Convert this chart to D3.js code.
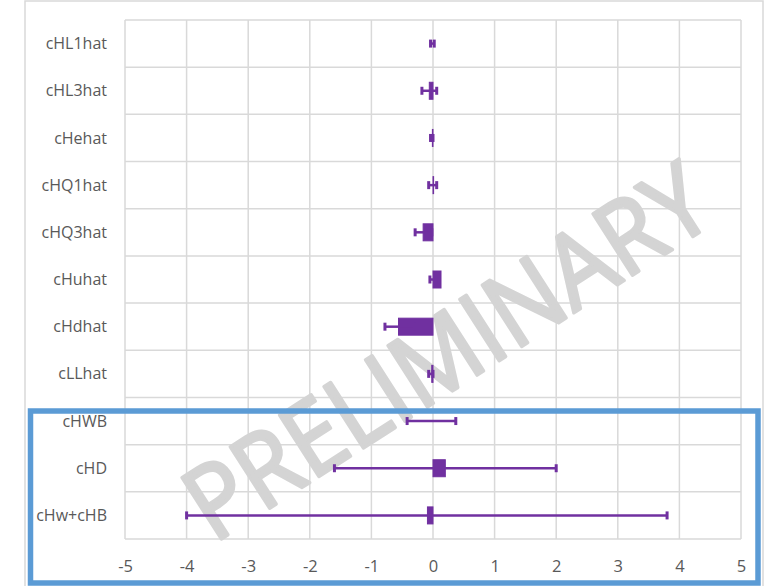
<!DOCTYPE html>
<html><head><meta charset="utf-8">
<script src="https://cdn.jsdelivr.net/npm/d3@7"></script>
<style>html,body{margin:0;padding:0;background:#fff;}svg{display:block;}</style>
</head><body>
<svg id="c" width="769" height="586"></svg>
<script>
const categories = ["cHL1hat","cHL3hat","cHehat","cHQ1hat","cHQ3hat","cHuhat","cHdhat","cLLhat","cHWB","cHD","cHw+cHB"];
const values   = [0.0, -0.06, -0.01, 0.01, -0.16, 0.13, -0.56, -0.02, 0.0, 0.2, -0.09];
const errLow   = [-0.04, -0.18, -0.04, -0.07, -0.29, -0.05, -0.78, -0.07, -0.42, -1.6, -4.0];
const errHigh  = [0.02, 0.06, 0.0, 0.06, -0.02, 0.1, -0.3, 0.0, 0.37, 2.0, 3.8];
const xTicks   = [-5,-4,-3,-2,-1,0,1,2,3,4,5];
const watermark = "PRELIMINARY";

const svg = d3.select("#c");
const pL = 125, pR = 741, pT = 20, pB = 539;
const x = d3.scaleLinear().domain([-5,5]).range([pL,pR]);
const y = d3.scaleBand().domain(categories).range([pT,pB]).padding(0);
const purple = "#7030A0", grid = "#d9d9d9", font = "'Open Sans', sans-serif";

// outer chart border
svg.append("rect").attr("x",25).attr("y",1).attr("width",738).attr("height",600)
  .attr("fill","none").attr("stroke",grid).attr("stroke-width",1.5);

// gridlines
const g = svg.append("g");
g.selectAll("line.v").data(xTicks).join("line")
  .attr("x1",d=>x(d)).attr("x2",d=>x(d)).attr("y1",pT).attr("y2",pB)
  .attr("stroke",grid).attr("stroke-width",1.5);
const hLines = categories.map(c=>y(c)).concat([pB]);
g.selectAll("line.h").data(hLines).join("line")
  .attr("x1",pL).attr("x2",pR).attr("y1",d=>d).attr("y2",d=>d)
  .attr("stroke",grid).attr("stroke-width",1.5);

// axis tick labels
const xAxis = d3.axisBottom(x).tickValues(xTicks).tickSize(0).tickPadding(0).tickFormat(d3.format("d"));
const ax = svg.append("g").attr("transform",`translate(0,${pB})`).call(xAxis);
ax.select(".domain").remove();
ax.selectAll("text").attr("y",33).attr("dy",0).attr("font-family",font).attr("font-size",16.5).attr("fill","#595959")
  .text(d=>d<0 ? "-"+Math.abs(d) : d);

// category labels
const yAxis = d3.axisLeft(y).tickSize(0).tickPadding(0);
const ay = svg.append("g").attr("transform","translate(107,0)").call(yAxis);
ay.select(".domain").remove();
ay.selectAll("text").attr("font-family",font).attr("font-size",16).attr("fill","#595959").attr("dy","0.35em");

// watermark
svg.append("text").text(watermark)
  .attr("transform","translate(466,382) rotate(-32.7)")
  .attr("text-anchor","middle").attr("font-family",font).attr("font-size",102)
  .attr("textLength",600).attr("lengthAdjust","spacingAndGlyphs")
  .attr("fill","#d4d4d4").attr("stroke","#d4d4d4").attr("stroke-width",3.5).attr("stroke-linejoin","round");

// bars
const barH = 17;
const rows = categories.map((c,i)=>({c, v:values[i], lo:errLow[i], hi:errHigh[i]}));
svg.append("g").selectAll("rect").data(rows).join("rect")
  .attr("x",d=>x(Math.min(0,d.v))).attr("width",d=>Math.abs(x(d.v)-x(0)))
  .attr("y",d=>y(d.c)+y.bandwidth()/2-barH/2).attr("height",barH)
  .attr("fill",purple).attr("stroke",purple).attr("stroke-width",1);

// error bars
const eb = svg.append("g").selectAll("g").data(rows).join("g");
eb.append("line").attr("x1",d=>x(d.lo)).attr("x2",d=>x(d.hi))
  .attr("y1",d=>y(d.c)+y.bandwidth()/2).attr("y2",d=>y(d.c)+y.bandwidth()/2)
  .attr("stroke",purple).attr("stroke-width",2.5);
eb.append("line").attr("x1",d=>x(d.lo)).attr("x2",d=>x(d.lo))
  .attr("y1",d=>y(d.c)+y.bandwidth()/2-4).attr("y2",d=>y(d.c)+y.bandwidth()/2+4)
  .attr("stroke",purple).attr("stroke-width",3);
eb.append("line").attr("x1",d=>x(d.hi)).attr("x2",d=>x(d.hi))
  .attr("y1",d=>y(d.c)+y.bandwidth()/2-4).attr("y2",d=>y(d.c)+y.bandwidth()/2+4)
  .attr("stroke",purple).attr("stroke-width",3);

// highlight box
svg.append("rect").attr("x",30.5).attr("y",411).attr("width",727.5).attr("height",172)
  .attr("fill","none").attr("stroke","#5B9BD5").attr("stroke-width",5.5);
</script>
</body></html>
